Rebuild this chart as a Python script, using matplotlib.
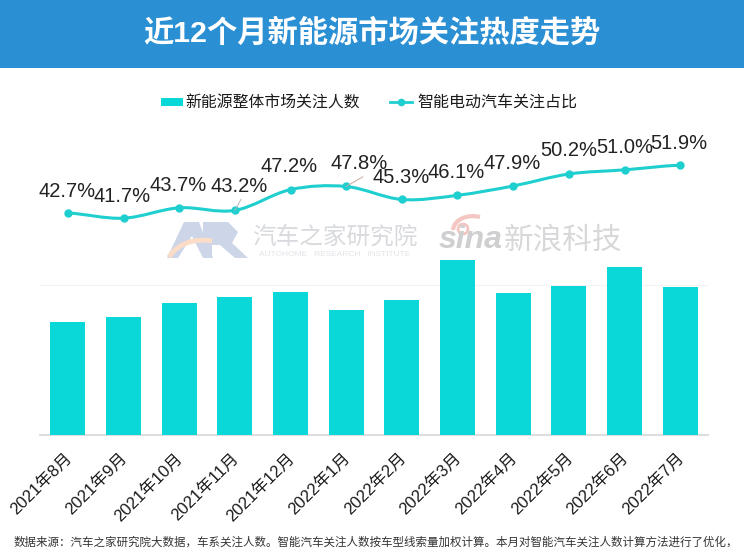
import matplotlib
matplotlib.use('Agg')
import matplotlib.pyplot as plt
from matplotlib.path import Path
from matplotlib.patches import PathPatch, Rectangle, Polygon, Circle
from matplotlib.transforms import ScaledTranslation

plt.rcParams['font.family'] = ['Liberation Sans', 'Noto Sans CJK SC', 'DejaVu Sans']

months = ['2021年8月', '2021年9月', '2021年10月', '2021年11月', '2021年12月', '2022年1月',
          '2022年2月', '2022年3月', '2022年4月', '2022年5月', '2022年6月', '2022年7月']
# no scale on the chart, bar heights are only read off the picture
people = [113, 118, 132, 138, 143, 125, 135, 175, 142, 149, 168, 148]
share = [42.7, 41.7, 43.7, 43.2, 47.2, 47.8, 45.3, 46.1, 47.9, 50.2, 51.0, 51.9]
share_labels = ['42.7%', '41.7%', '43.7%', '43.2%', '47.2%', '47.8%',
                '45.3%', '46.1%', '47.9%', '50.2%', '51.0%', '51.9%']
# label offset from the point in pixels (x, y up)
label_dx = [-1, -1, -1, 4, -1, 13, -1, -1, -1, 0, 0, -1]
label_dy = [21, 22, 22, 24, 23, 23, 22, 23, 22, 23, 22, 22]

W, H = 744, 550
TEAL = '#0ad8d8'
LINE = '#1fcfd0'
fig = plt.figure(figsize=(W / 100, H / 100), dpi=100, facecolor='white')

def px_axes(left, top, right, bottom):
    return fig.add_axes([left / W, 1 - bottom / H, (right - left) / W, (bottom - top) / H])

# overlay in pixel coords for header, watermark, footer
bg = px_axes(0, 0, W, H)
bg.set_xlim(0, W)
bg.set_ylim(H, 0)
bg.axis('off')
bg.add_patch(Rectangle((0, 0), W, 68, color='#2b8fd4', lw=0))
bg.text(W / 2, 33, '近12个月新能源市场关注热度走势', color='white', fontsize=21.8, weight='bold',
        ha='center', va='center')

# watermark
bg.add_patch(Polygon([(167, 258), (184, 222), (199, 222), (213, 258), (203, 258), (192, 236), (178, 258)],
                     color='#ccd6e8', lw=0))
bg.add_patch(Polygon([(203, 222), (228, 222), (238, 232), (232, 243), (248, 258), (235, 258), (220, 245), (212, 245),
                      (212, 258), (203, 258)], color='#ccd6e8', lw=0))
arc = Path([(169, 257), (178, 243), (195, 238), (212, 241)], [Path.MOVETO, Path.CURVE4, Path.CURVE4, Path.CURVE4])
bg.add_patch(PathPatch(arc, fc='none', ec='#fbdcc6', lw=3.5))
bg.text(335, 237, '汽车之家研究院', color='#d8dadd', fontsize=17, ha='center', va='center')
bg.text(335, 254, 'AUTOHOME   RESEARCH   INSTITUTE', color='#e2e4e8', fontsize=6, ha='center', va='center')
bg.text(471, 240, 'sina', color='#cfcfd1', fontsize=23, weight='bold', style='italic',
        ha='center', va='center')
bg.text(563.5, 241, '新浪科技', color='#d8d8da', fontsize=21.3, style='italic', ha='center', va='center')
bg.add_patch(Circle((463, 229), 5, fc='none', ec='#f3c6c2', lw=2))
bg.add_patch(PathPatch(Path([(453, 230), (454, 219), (468, 214), (480, 217)],
                            [Path.MOVETO, Path.CURVE4, Path.CURVE4, Path.CURVE4]),
                       fc='none', ec='#f3c6c2', lw=3))

bg.text(14, 541.5, '数据来源：汽车之家研究院大数据，车系关注人数。智能汽车关注人数按车型线索量加权计算。本月对智能汽车关注人数计算方法进行了优化，',
        color='#333333', fontsize=8.28, va='center')

# bars, baseline at y=435 px
ax = px_axes(40, 240, 708, 435)
ax.patch.set_alpha(0)
x = list(range(len(months)))
ax.bar(x, people, width=0.63, color=TEAL, zorder=3)
ax.axhline(150, color='#f3f3f3', lw=0.8, zorder=1)
ax.set_xlim(-0.5, 11.5)
ax.set_ylim(0, 195)
for s in ['top', 'left', 'right']:
    ax.spines[s].set_visible(False)
ax.spines['bottom'].set_color('#dedede')
ax.spines['bottom'].set_linewidth(1.5)
ax.set_yticks([])
ax.set_xticks(x)
ax.set_xticklabels(months, rotation=45, ha='right', va='top', rotation_mode='anchor', fontsize=12, color='#1a1a1a')
ax.tick_params(axis='x', length=0, pad=11)
shift = ScaledTranslation(-4 / 100, 0, fig.dpi_scale_trans)
for lab in ax.get_xticklabels():
    lab.set_transform(lab.get_transform() + shift)

# share line, y px = 213 - (v - 42.7) * 5.2
ly = px_axes(40, 130, 708, 240)
ly.patch.set_alpha(0)
ly.axis('off')
ly.set_xlim(-0.5, 11.5)
ly.set_ylim(42.7 - (240 - 213) / 5.2, 42.7 + (213 - 130) / 5.2)

# smooth line as cubic bezier segments through the points
verts = [(x[0], share[0])]
codes = [Path.MOVETO]
for i in range(len(x) - 1):
    prev_v = share[max(i - 1, 0)]
    next_v = share[min(i + 2, len(x) - 1)]
    verts.append((x[i] + 0.33, share[i] + (share[i + 1] - prev_v) / 6))
    verts.append((x[i + 1] - 0.33, share[i + 1] - (next_v - share[i]) / 6))
    verts.append((x[i + 1], share[i + 1]))
    codes += [Path.CURVE4] * 3
ly.add_patch(PathPatch(Path(verts, codes), fc='none', ec=LINE, lw=2.2, capstyle='round'))
ly.plot(x, share, ls='none', marker='o', ms=5, color=LINE)
for i, lab in enumerate(share_labels):
    ly.annotate(lab, (x[i], share[i]), xytext=(label_dx[i] * 0.72, label_dy[i] * 0.72), textcoords='offset points',
                ha='center', va='center', fontsize=14.5, color='#222222')
# small leader lines
ly.annotate('', (x[3], share[3]), xytext=(4.5, 8), textcoords='offset points',
            arrowprops=dict(arrowstyle='-', color='#b5b5b5', lw=0.7, shrinkA=0, shrinkB=0))
ly.annotate('', (x[5], share[5]), xytext=(12, 7), textcoords='offset points',
            arrowprops=dict(arrowstyle='-', color='#c9a9a0', lw=0.7, shrinkA=0, shrinkB=0))

# legend
bg.add_patch(Rectangle((161, 98), 22, 8, color=TEAL, lw=0))
bg.text(185, 102.5, '新能源整体市场关注人数', fontsize=11.4, color='#1a1a1a', va='center')
bg.plot([390, 412], [102, 102], color=LINE, lw=2)
bg.plot([401], [102], marker='o', ms=4.5, color=LINE)
bg.text(417, 102.5, '智能电动汽车关注占比', fontsize=11.5, color='#1a1a1a', va='center')

fig.savefig('out.png', dpi=100)
